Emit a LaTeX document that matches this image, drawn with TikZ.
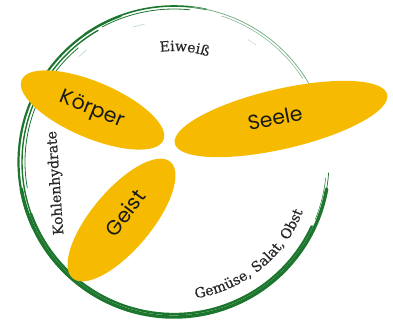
\documentclass[tikz,border=0pt]{standalone}
\usepackage{fontspec}
\setmainfont{DejaVu Serif}
\newfontfamily\randfont{DejaVu Serif}[UprightFeatures={FakeBold=0.5}]
\newfontfamily\blattfont{Poppins}
\usetikzlibrary{shapes.geometric, decorations.text}

\definecolor{blattgelb}{RGB}{246,187,0}
\definecolor{kreisgruen}{RGB}{28,118,46}
\definecolor{kreishell}{RGB}{120,175,135}
\definecolor{randgrau}{RGB}{40,40,40}
\newcommand{\randschrift}{\randfont\fontsize{14}{16}\selectfont\color{randgrau}}

\begin{document}
\begin{tikzpicture}[
  x=1pt, y=1pt,
  %% Node styles
  blatt/.style={
    ellipse, fill=blattgelb, draw=none, inner sep=0pt
  },
  blattname/.style={
    font=\blattfont\fontsize{20.5}{24}\selectfont,
    text=black!90, inner sep=0pt
  },
  rand/.style={
    font=\randschrift, inner sep=0pt
  },
  %% Brush strokes
  pinsel/.style={draw=kreisgruen, line cap=round},
  pinselhell/.style={draw=kreishell, line cap=round},
  bogentext/.style={
    decorate, decoration={text along path, text align=center, text={|\randschrift|#1}}
  },
]

\useasboundingbox (0,0) rectangle (393,-327);
\coordinate (mitte) at (174,-162);

%% ── CIRCLE (brush) ───────────────────────────────────────────────────────
% thick lower part
\draw[pinsel, line width=3.4] ([shift={(190:155)}]mitte) arc[start angle=190, end angle=350, radius=155];
\draw[pinsel, line width=2.4] ([shift={(200:152)}]mitte) arc[start angle=200, end angle=335, radius=152];
% left upper part
\draw[pinsel, line width=2.2] ([shift={(110:155.5)}]mitte) arc[start angle=110, end angle=205, radius=155.5];
\draw[pinsel, line width=1.4] ([shift={(120:152)}]mitte) arc[start angle=120, end angle=215, radius=152];
\draw[pinsel, line width=0.8] ([shift={(130:149)}]mitte) arc[start angle=130, end angle=190, radius=149];
% top
\draw[pinsel, line width=1.6] ([shift={(78:156)}]mitte) arc[start angle=78, end angle=125, radius=156];
\draw[pinsel, line width=0.8] ([shift={(84:153)}]mitte) arc[start angle=84, end angle=118, radius=153];
% top right, thin
\draw[pinselhell, line width=0.8] ([shift={(29:156)}]mitte) arc[start angle=29, end angle=84, radius=156];
\draw[pinselhell, line width=0.5] ([shift={(33:153.5)}]mitte) arc[start angle=33, end angle=72, radius=153.5];
% right end below the leaf
\draw[pinsel, line width=0.7] ([shift={(-4:155)}]mitte) arc[start angle=-4, end angle=-20, radius=155];
\draw[pinsel, line width=0.5] ([shift={(-6:152.5)}]mitte) arc[start angle=-6, end angle=-22, radius=152.5];
% loose hairs
\draw[pinselhell, draw=kreishell!60, line width=0.5] ([shift={(102:141)}]mitte) arc[start angle=102, end angle=107, radius=141];
\draw[pinselhell, draw=kreishell!60, line width=0.5] ([shift={(128:142)}]mitte) arc[start angle=128, end angle=132, radius=142];
\draw[pinselhell, draw=kreishell!60, line width=0.4] ([shift={(55:143)}]mitte) arc[start angle=55, end angle=59, radius=143];

%% ── LEAVES ───────────────────────────────────────────────────────────────
\node[blatt, minimum width=154, minimum height=56, rotate=-23] (koerperblatt) at (92.5,-110) {};
\node[blatt, minimum width=218, minimum height=60, rotate=13]  (seeleblatt)   at (281,-119) {};
\node[blatt, minimum width=152, minimum height=60, rotate=50]  (geistblatt)   at (121.5,-220) {};

\node[blattname, rotate=-22] (koerper) at (92,-110)  {Körper};
\node[blattname, rotate=11]  (seele)   at (275,-118) {Seele};
\node[blattname, rotate=53]  (geist)   at (125,-213) {Geist};

%% ── FOOD LABELS ──────────────────────────────────────────────────────────
\node[rand, rotate=94] (kohlenhydrate) at (56,-183) {Kohlenhydrate};
\path[bogentext=Eiweiß] ([shift={(114.6:111)}]mitte) arc[start angle=114.6, end angle=54.6, radius=111];
\path[bogentext={Gemüse, Salat, Obst}] ([shift={(-111:138)}]mitte) arc[start angle=-111, end angle=9, radius=138];

\end{tikzpicture}
\end{document}
